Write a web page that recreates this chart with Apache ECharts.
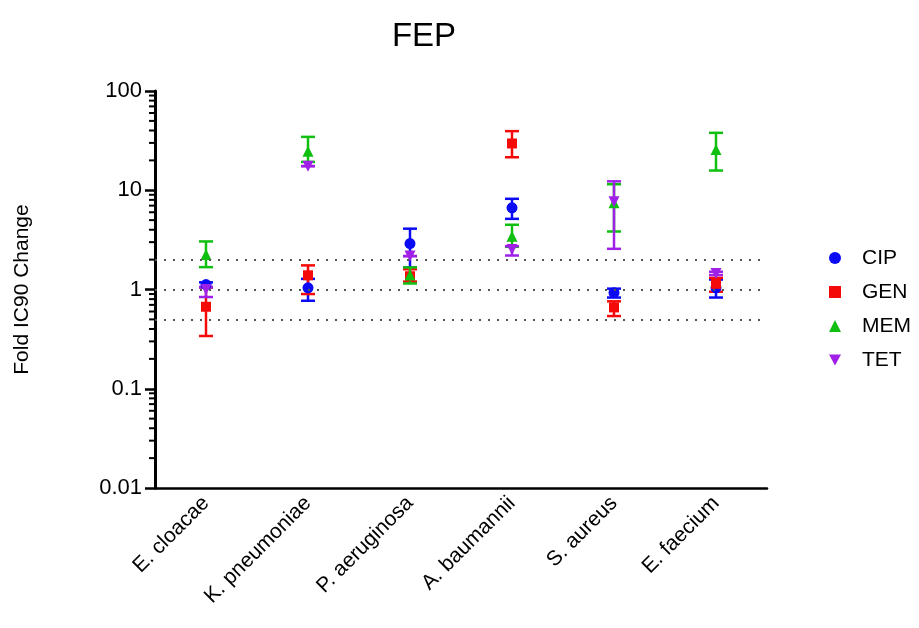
<!DOCTYPE html>
<html>
<head>
<meta charset="utf-8">
<script src="https://cdn.jsdelivr.net/npm/echarts@6/dist/echarts.min.js"></script>
<style>
  html, body { margin: 0; padding: 0; background: #fff; }
  #chart { width: 919px; height: 628px; }
</style>
</head>
<body>
<div id="chart"></div>
<script>
// 物种
const categories = ['E. cloacae', 'K. pneumoniae', 'P. aeruginosa', 'A. baumannii', 'S. aureus', 'E. faecium']

// 均值与误差范围（低, 高）
const cipMean = [1.12, 1.04, 2.9, 6.65, 0.93, 1.04]
const cipLow = [1.06, 0.77, 1.67, 5.15, 0.83, 0.83]
const cipHigh = [1.18, 1.28, 4.1, 8.2, 1.02, 1.26]

const genMean = [0.67, 1.39, 1.36, 29.6, 0.66, 1.14]
const genLow = [0.34, 0.90, 1.2, 21.5, 0.54, 0.95]
const genHigh = [1.05, 1.75, 1.6, 39.4, 0.76, 1.31]

const memMean = [2.25, 24.7, 1.4, 3.44, 7.5, 25.7]
const memLow = [1.68, 19.3, 1.15, 2.69, 3.84, 15.8]
const memHigh = [3.05, 34.5, 1.67, 4.49, 11.5, 37.9]

const tetMean = [1.0, 17.5, 2.17, 2.53, 7.65, 1.45]
const tetLow = [0.84, 17.5, 2.17, 2.2, 2.57, 1.4]
const tetHigh = [1.05, 17.5, 2.17, 2.73, 12.3, 1.51]

// 参考线
const refLines = [0.5, 1, 2]
// y轴刻度标签
const yTicks = [0.01, 0.1, 1, 10, 100]

const groups = [
    {name: 'CIP', color: '#0a0af5', symbol: 'circle', size: 11, mean: cipMean, low: cipLow, high: cipHigh},
    {name: 'GEN', color: '#f50a0a', symbol: 'rect', size: 10, mean: genMean, low: genLow, high: genHigh},
    {name: 'MEM', color: '#10c010', symbol: 'triangle', size: 11, mean: memMean, low: memLow, high: memHigh},
    {name: 'TET', color: '#a020e8', symbol: 'path://M0,0 L10,0 L5,9 Z', size: 11, mean: tetMean, low: tetLow, high: tetHigh}
]

// 对数轴的次刻度（2..9 × 10^k）
const minorVals = []
for (let k = -2; k < 2; k++) {
    for (let m = 2; m <= 9; m++) {
        minorVals.push(m * Math.pow(10, k))
    }
}

function errorBarRender(color) {
    return function (params, api) {
        const top = api.coord([api.value(0), api.value(2)])
        const bottom = api.coord([api.value(0), api.value(1)])
        const half = 7
        const style = {stroke: color, lineWidth: 2.5, fill: null}
        return {
            type: 'group',
            children: [
                {type: 'line', shape: {x1: top[0], y1: top[1], x2: bottom[0], y2: bottom[1]}, style: style},
                {type: 'line', shape: {x1: top[0] - half, y1: top[1], x2: top[0] + half, y2: top[1]}, style: style},
                {type: 'line', shape: {x1: bottom[0] - half, y1: bottom[1], x2: bottom[0] + half, y2: bottom[1]}, style: style}
            ]
        }
    }
}

const series = []
groups.forEach(function (g) {
    series.push({
        name: g.name + '_err',
        type: 'custom',
        renderItem: errorBarRender(g.color),
        encode: {x: 0, y: [1, 2]},
        data: categories.map((c, i) => [i, g.low[i], g.high[i]]),
        z: 3
    })
    series.push({
        name: g.name,
        type: 'scatter',
        symbol: g.symbol,
        symbolSize: g.size,
        itemStyle: {color: g.color, opacity: 1},
        data: categories.map((c, i) => [i, g.mean[i]]),
        z: 4
    })
})

// 虚线参考线
series.push({
    name: 'ref',
    type: 'line',
    data: [],
    silent: true,
    markLine: {
        silent: true,
        symbol: 'none',
        label: {show: false},
        lineStyle: {color: '#555', type: [2, 7], width: 2},
        data: refLines.map(v => ({yAxis: v}))
    },
    z: 1
})

// 次刻度
series.push({
    name: 'minor',
    type: 'custom',
    silent: true,
    clip: false,
    renderItem: function (params, api) {
        const p = api.coord([0, api.value(0)])
        const x0 = params.coordSys.x
        return {
            type: 'line',
            shape: {x1: x0 - 6, y1: p[1], x2: x0, y2: p[1]},
            style: {stroke: '#000', lineWidth: 2}
        }
    },
    encode: {y: 0},
    data: minorVals.map(v => [v]),
    z: 5
})

const chart = echarts.init(document.getElementById('chart'), null, {renderer: 'canvas'})
chart.setOption({
    animation: false,
    backgroundColor: '#fff',
    title: {
        text: 'FEP',
        left: 419,
        textAlign: 'center',
        top: 15,
        textStyle: {fontFamily: 'Liberation Sans', fontSize: 33, fontWeight: 'normal', color: '#000'}
    },
    legend: {
        orient: 'vertical',
        left: 824,
        top: 242,
        itemWidth: 12,
        itemHeight: 12,
        itemGap: 12,
        data: groups.map(g => g.name),
        textStyle: {fontFamily: 'Liberation Sans', fontSize: 21, color: '#000', lineHeight: 22, padding: [0, 0, 0, 16]}
    },
    grid: {left: 155, right: 152, top: 91, bottom: 140},
    xAxis: {
        type: 'category',
        data: categories,
        boundaryGap: true,
        axisLine: {lineStyle: {color: '#000', width: 2.5}},
        axisTick: {alignWithLabel: true, length: 9, lineStyle: {width: 2.5, color: '#000'}},
        axisLabel: {rotate: 45, fontFamily: 'Liberation Sans', fontSize: 21, color: '#000', margin: 12, interval: 0}
    },
    yAxis: {
        type: 'log',
        logBase: 10,
        min: 0.01,
        max: 100,
        name: 'Fold IC90 Change',
        nameLocation: 'middle',
        nameGap: 122,
        nameTextStyle: {fontFamily: 'Liberation Sans', fontSize: 21, color: '#000'},
        splitLine: {show: false},
        axisLine: {show: true, lineStyle: {color: '#000', width: 3}},
        axisTick: {show: true, length: 10, lineStyle: {width: 2.5, color: '#000'}},
        axisLabel: {
            fontFamily: 'Liberation Sans', fontSize: 22, color: '#000', margin: 13,
            formatter: function (v) {
                const t = yTicks.find(x => Math.abs(x - v) / x < 1e-6)
                return t === undefined ? '' : String(t)
            }
        }
    },
    series: series
})
</script>
</body>
</html>
